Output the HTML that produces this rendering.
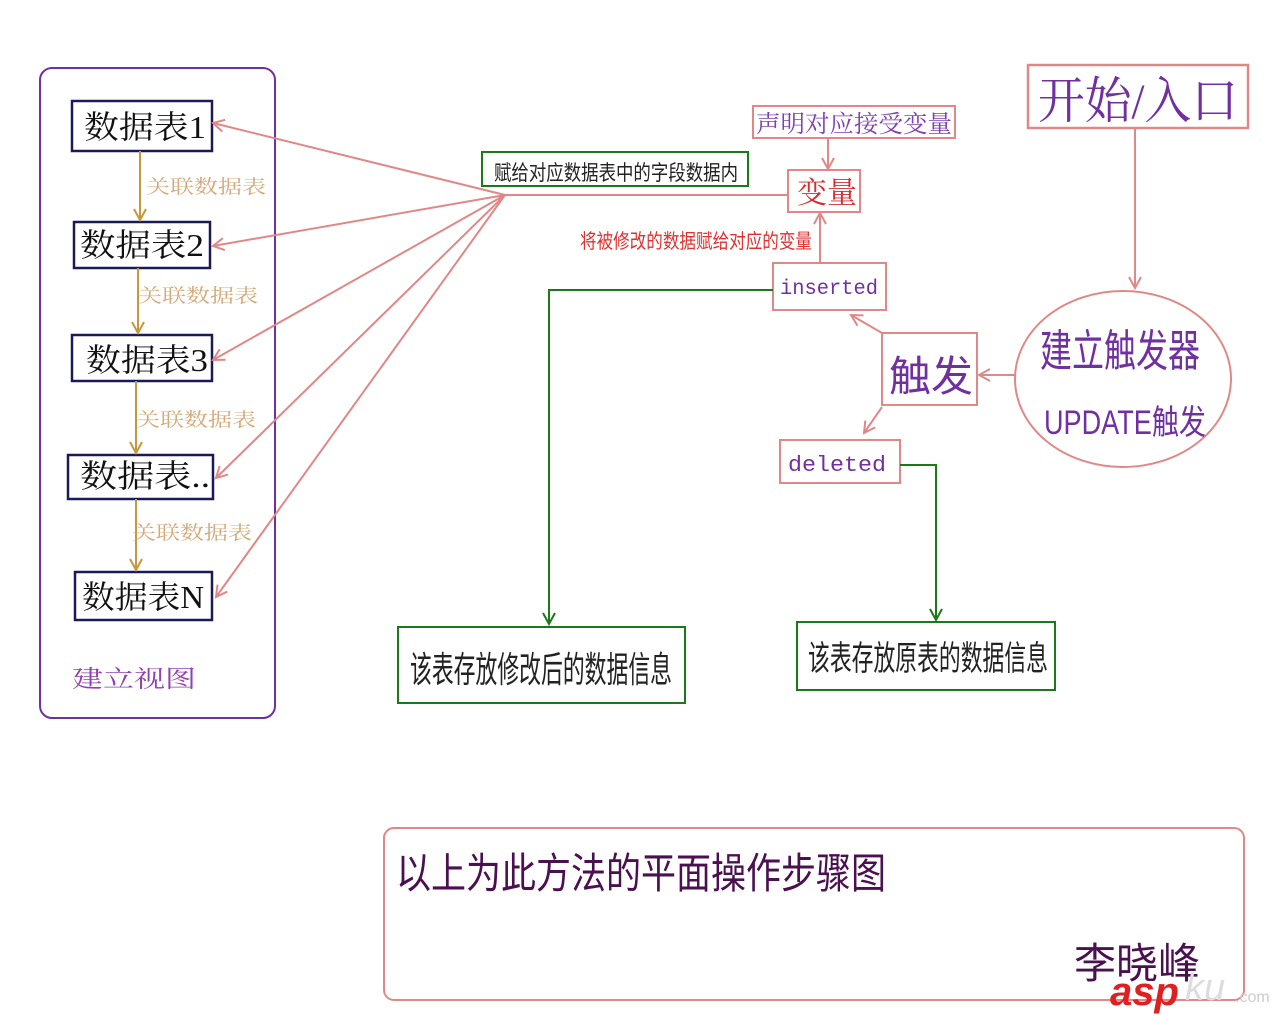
<!DOCTYPE html>
<html><head><meta charset="utf-8"><style>
html,body{margin:0;padding:0;background:#fff;width:1280px;height:1024px;overflow:hidden}
svg text{font-family:"Liberation Serif","Noto Serif CJK SC","Noto Sans CJK SC",serif}
svg text.s{font-family:"Liberation Sans","Noto Sans CJK SC",sans-serif}
svg text.m{font-family:"Liberation Mono",monospace}
</style></head><body>
<svg width="1280" height="1024" xmlns="http://www.w3.org/2000/svg">
<defs>
<marker id="pa" markerWidth="14" markerHeight="14" refX="12" refY="7" orient="auto" markerUnits="userSpaceOnUse"><path d="M1,1 L12,7 L1,13" fill="none" stroke="#e08888" stroke-width="2"/></marker>
<marker id="oa" markerWidth="14" markerHeight="14" refX="12" refY="7" orient="auto" markerUnits="userSpaceOnUse"><path d="M1,1 L12,7 L1,13" fill="none" stroke="#c8963c" stroke-width="2"/></marker>
<marker id="ga" markerWidth="14" markerHeight="14" refX="12" refY="7" orient="auto" markerUnits="userSpaceOnUse"><path d="M1,1 L12,7 L1,13" fill="none" stroke="#1a7a1a" stroke-width="2"/></marker>
</defs>
<rect x="40" y="68" width="235" height="650" rx="12" fill="none" stroke="#7030a0" stroke-width="2"/>
<g fill="#fff" stroke="#1a1a5a" stroke-width="2.5">
<rect x="72" y="101" width="140" height="50"/>
<rect x="74" y="222" width="136" height="46"/>
<rect x="72" y="335" width="140" height="46"/>
<rect x="68" y="455" width="145" height="44"/>
<rect x="75" y="572" width="137" height="48"/>
</g>
<g font-size="32" fill="#111">
<text x="84" y="138" textLength="122" lengthAdjust="spacingAndGlyphs">数据表1</text>
<text x="80" y="256" textLength="124" lengthAdjust="spacingAndGlyphs">数据表2</text>
<text x="86" y="371" textLength="122" lengthAdjust="spacingAndGlyphs">数据表3</text>
<text x="80" y="487" textLength="130" lengthAdjust="spacingAndGlyphs">数据表..</text>
<text x="82" y="608" textLength="122" lengthAdjust="spacingAndGlyphs">数据表N</text>
</g>
<g stroke="#c8963c" stroke-width="2" marker-end="url(#oa)">
<line x1="140" y1="151" x2="140" y2="220"/>
<line x1="138" y1="268" x2="138" y2="333"/>
<line x1="136" y1="381" x2="136" y2="453"/>
<line x1="136" y1="499" x2="136" y2="570"/>
</g>
<g font-size="19" fill="#d4a878">
<text x="146" y="193" textLength="120" lengthAdjust="spacingAndGlyphs">关联数据表</text>
<text x="138" y="302" textLength="120" lengthAdjust="spacingAndGlyphs">关联数据表</text>
<text x="136" y="426" textLength="120" lengthAdjust="spacingAndGlyphs">关联数据表</text>
<text x="132" y="539" textLength="120" lengthAdjust="spacingAndGlyphs">关联数据表</text>
</g>
<text x="72" y="687" font-size="24" fill="#9040b0" textLength="124" lengthAdjust="spacingAndGlyphs">建立视图</text>
<g stroke="#e08888" stroke-width="2" marker-end="url(#pa)" fill="none">
<line x1="505" y1="195" x2="213" y2="123"/>
<line x1="505" y1="195" x2="213" y2="246"/>
<line x1="505" y1="195" x2="213" y2="360"/>
<line x1="505" y1="195" x2="216" y2="478"/>
<line x1="505" y1="195" x2="216" y2="597"/>
</g>
<line x1="505" y1="195" x2="788" y2="195" stroke="#e08888" stroke-width="2"/>
<rect x="482" y="152" width="266" height="34" fill="#fff" stroke="#1a7a1a" stroke-width="2"/>
<text x="494" y="180" class="s" font-size="21" fill="#222" textLength="244" lengthAdjust="spacingAndGlyphs">赋给对应数据表中的字段数据内</text>
<rect x="753" y="106" width="202" height="32" fill="#fff" stroke="#e08888" stroke-width="2"/>
<text x="756" y="132" font-size="24" fill="#8040b0" textLength="196" lengthAdjust="spacingAndGlyphs">声明对应接受变量</text>
<line x1="828" y1="138" x2="828" y2="169" stroke="#e08888" stroke-width="2" marker-end="url(#pa)"/>
<rect x="788" y="170" width="72" height="42" fill="#fff" stroke="#e08888" stroke-width="2"/>
<text x="797" y="203" font-size="30" fill="#d03030">变量</text>
<line x1="820" y1="262" x2="820" y2="213" stroke="#e08888" stroke-width="2" marker-end="url(#pa)"/>
<text x="580" y="248" class="s" font-size="20" fill="#e03030" textLength="232" lengthAdjust="spacingAndGlyphs">将被修改的数据赋给对应的变量</text>
<rect x="773" y="263" width="113" height="47" fill="#fff" stroke="#e08888" stroke-width="2"/>
<text x="780" y="294" class="m" font-size="21" fill="#7030a0" textLength="98" lengthAdjust="spacingAndGlyphs">inserted</text>
<polyline points="773,290 549,290 549,624" fill="none" stroke="#1a7a1a" stroke-width="2" marker-end="url(#ga)"/>
<rect x="780" y="440" width="120" height="43" fill="#fff" stroke="#e08888" stroke-width="2"/>
<text x="788" y="471" class="m" font-size="22" fill="#7030a0" textLength="98" lengthAdjust="spacingAndGlyphs">deleted</text>
<polyline points="900,465 936,465 936,620" fill="none" stroke="#1a7a1a" stroke-width="2" marker-end="url(#ga)"/>
<rect x="398" y="627" width="287" height="76" fill="#fff" stroke="#1a7a1a" stroke-width="2"/>
<text x="410" y="682" class="s" font-size="36" fill="#222" textLength="262" lengthAdjust="spacingAndGlyphs">该表存放修改后的数据信息</text>
<rect x="797" y="622" width="258" height="68" fill="#fff" stroke="#1a7a1a" stroke-width="2"/>
<text x="808" y="670" class="s" font-size="34" fill="#222" textLength="240" lengthAdjust="spacingAndGlyphs">该表存放原表的数据信息</text>
<rect x="882" y="333" width="95" height="72" fill="#fff" stroke="#e08888" stroke-width="2"/>
<text x="889" y="391" class="s" font-size="42" fill="#7030a0" textLength="84" lengthAdjust="spacingAndGlyphs">触发</text>
<line x1="882" y1="333" x2="851" y2="315" stroke="#e08888" stroke-width="2" marker-end="url(#pa)"/>
<line x1="882" y1="407" x2="864" y2="433" stroke="#e08888" stroke-width="2" marker-end="url(#pa)"/>
<ellipse cx="1123" cy="379" rx="108" ry="88" fill="#fff" stroke="#e08888" stroke-width="2"/>
<text x="1040" y="366" class="s" font-size="44" fill="#7030a0" textLength="160" lengthAdjust="spacingAndGlyphs">建立触发器</text>
<text x="1044" y="434" class="s" font-size="34" fill="#7030a0" textLength="162" lengthAdjust="spacingAndGlyphs">UPDATE触发</text>
<line x1="1015" y1="375" x2="979" y2="375" stroke="#e08888" stroke-width="2" marker-end="url(#pa)"/>
<rect x="1028" y="65" width="220" height="63" fill="#fff" stroke="#e08888" stroke-width="2.5"/>
<text x="1038" y="118" font-size="50" fill="#7030a0" textLength="200" lengthAdjust="spacingAndGlyphs">开始/入口</text>
<line x1="1135" y1="128" x2="1135" y2="288" stroke="#e08888" stroke-width="2" marker-end="url(#pa)"/>
<rect x="384" y="828" width="860" height="172" rx="10" fill="#fff" stroke="#e08888" stroke-width="2"/>
<text x="396" y="888" class="s" font-size="42" fill="#4a1050" textLength="490" lengthAdjust="spacingAndGlyphs">以上为此方法的平面操作步骤图</text>
<text x="1074" y="978" class="s" font-size="42" fill="#4a1050">李晓峰</text>
<text x="1110" y="1005" class="s" font-size="40" font-weight="bold" font-style="italic" fill="#e02020">asp</text>
<text x="1185" y="1000" class="s" font-size="38" font-style="italic" fill="#ddd">ku</text>
<text x="1235" y="1002" class="s" font-size="16" fill="#ccc">.com</text>
</svg>
</body></html>
